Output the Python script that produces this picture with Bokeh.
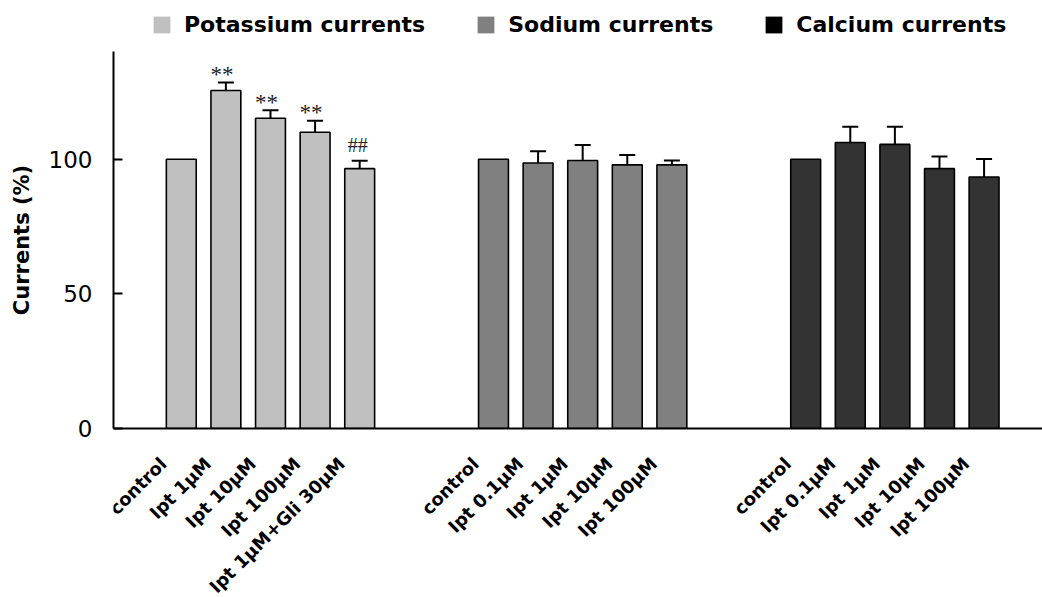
import math
from bokeh.plotting import figure
from bokeh.layouts import column
from bokeh.models import FixedTicker, Range1d, Legend, LegendItem
from bokeh.core.properties import value
from bokeh.embed import file_html
from bokeh.resources import INLINE

# ---- data ----
groups = ["Potassium currents", "Sodium currents", "Calcium currents"]
bar_colors = ["#c0c0c0", "#808080", "#333333"]
legend_colors = ["#c0c0c0", "#808080", "#000000"]

k_labels = ["control", "Ipt 1µM", "Ipt 10µM", "Ipt 100µM", "Ipt 1µM+Gli 30µM"]
k_values = [100, 125.5, 115.2, 110.0, 96.5]
k_errors = [0, 3.0, 3.0, 4.3, 2.9]
k_marks = ["", "**", "**", "**", "##"]

na_labels = ["control", "Ipt 0.1µM", "Ipt 1µM", "Ipt 10µM", "Ipt 100µM"]
na_values = [100, 98.6, 99.5, 97.9, 97.9]
na_errors = [0, 4.4, 5.8, 3.7, 1.6]
na_marks = ["", "", "", "", ""]

ca_labels = ["control", "Ipt 0.1µM", "Ipt 1µM", "Ipt 10µM", "Ipt 100µM"]
ca_values = [100, 106.2, 105.5, 96.5, 93.4]
ca_errors = [0, 5.9, 6.6, 4.5, 6.7]
ca_marks = ["", "", "", "", ""]

y_ticks = [0, 50, 100]

all_labels = [k_labels, na_labels, ca_labels]
all_values = [k_values, na_values, ca_values]
all_errors = [k_errors, na_errors, ca_errors]
all_marks = [k_marks, na_marks, ca_marks]

GROUP_STEP = 7      # 5 bars + 2 empty slots

LEFT = 113
LEGEND_H = 51
FRAME_H = 377
MAIN_BOTTOM = 14
MAIN_H = FRAME_H + MAIN_BOTTOM
LABEL_H = 597 - LEGEND_H - MAIN_H

x_range = Range1d(-1.52, 19.31)

# ---- main chart ----
p = figure(width=1042, height=MAIN_H, output_backend="svg", toolbar_location=None,
           x_range=x_range, y_range=Range1d(0, 140),
           min_border_left=LEFT, min_border_right=0, min_border_top=0,
           min_border_bottom=MAIN_BOTTOM)
p.outline_line_color = None
p.xgrid.visible = False
p.ygrid.visible = False
p.background_fill_color = "white"

# ---- category label strip below the chart ----
lb = figure(width=1042, height=LABEL_H, output_backend="svg", toolbar_location=None,
            x_range=x_range, y_range=Range1d(0, LABEL_H),
            min_border_left=LEFT, min_border_right=0, min_border_top=0, min_border_bottom=0)
lb.axis.visible = False
lb.grid.visible = False
lb.outline_line_color = None

for g, name in enumerate(groups):
    xs = [g * GROUP_STEP + i for i in range(len(all_values[g]))]
    vals = all_values[g]
    errs = all_errors[g]
    ex = [x for x, e in zip(xs, errs) if e > 0]
    ey0 = [v for v, e in zip(vals, errs) if e > 0]
    ey1 = [v + e for v, e in zip(vals, errs) if e > 0]
    p.segment(x0=ex, y0=ey0, x1=ex, y1=ey1, line_color="black", line_width=2)
    p.scatter(x=ex, y=ey1, marker="dash", size=16, line_color="black", line_width=2)
    p.vbar(x=xs, top=vals, bottom=0, width=0.67, fill_color=bar_colors[g],
           line_color="black", line_width=1.6)
    for mark, size, dy, dx in (("**", "23px", 8, -4), ("##", "20px", 16, -2)):
        mx = [x for x, m in zip(xs, all_marks[g]) if m == mark]
        my = [v + e for v, e, m in zip(vals, errs, all_marks[g]) if m == mark]
        if mx:
            p.text(x=mx, y=my, text=[mark] * len(mx), text_font=value("Liberation Serif"),
                   text_font_size=size, text_align="center", text_baseline="alphabetic",
                   y_offset=-dy, x_offset=dx, text_color="#222222")
    # rotated category labels, their end just below-left of each bar
    lb.text(x=xs, y=[LABEL_H] * len(xs), text=all_labels[g], angle=math.pi / 4,
            text_align="right", text_baseline="middle", x_offset=-18, y_offset=18,
            text_font=value("DejaVu Sans"), text_font_style="bold",
            text_font_size="18px", text_color="black")

xa = p.xaxis[0]
xa.ticker = FixedTicker(ticks=[])
xa.major_tick_out = 0
xa.major_tick_in = 0
xa.minor_tick_line_color = None
xa.major_label_standoff = 0
xa.axis_line_width = 2

ya = p.yaxis[0]
ya.ticker = FixedTicker(ticks=y_ticks)
ya.major_tick_in = 9
ya.major_tick_out = 0
ya.major_tick_line_width = 2
ya.minor_tick_line_color = None
ya.axis_line_width = 2
ya.major_label_standoff = 21
ya.major_label_text_font = "DejaVu Sans"
ya.major_label_text_font_size = "23px"
ya.major_label_text_color = "black"
ya.axis_label = "Currents (%)"
ya.axis_label_text_font = "DejaVu Sans"
ya.axis_label_text_font_style = "bold"
ya.axis_label_text_font_size = "21px"
ya.axis_label_text_color = "black"
ya.axis_label_standoff = 12

# ---- legend strip above the chart ----
lg = figure(width=1042, height=LEGEND_H, output_backend="svg", toolbar_location=None,
            x_range=Range1d(0, 1), y_range=Range1d(0, 1),
            min_border_left=LEFT, min_border_right=0, min_border_top=0, min_border_bottom=0)
lg.axis.visible = False
lg.grid.visible = False
lg.outline_line_color = None
items = []
for g, name in enumerate(groups):
    # zero-height proxy bar: only its legend swatch is visible
    r = lg.vbar(x=[0.5], top=[0], bottom=[0], width=0.01, fill_color=legend_colors[g],
                line_color=None)
    items.append(LegendItem(label=name, renderers=[r]))
legend = Legend(items=items, orientation="horizontal", location=(38, 14),
                glyph_width=21, glyph_height=21, label_standoff=12, spacing=50,
                padding=0, margin=0, border_line_color=None, background_fill_alpha=0,
                label_text_font="DejaVu Sans", label_text_font_style="bold",
                label_text_font_size="22px", label_height=21, label_text_color="black")
lg.add_layout(legend)

layout = column(lg, p, lb, spacing=0)
open("out.html", "w").write(file_html(layout, INLINE))
